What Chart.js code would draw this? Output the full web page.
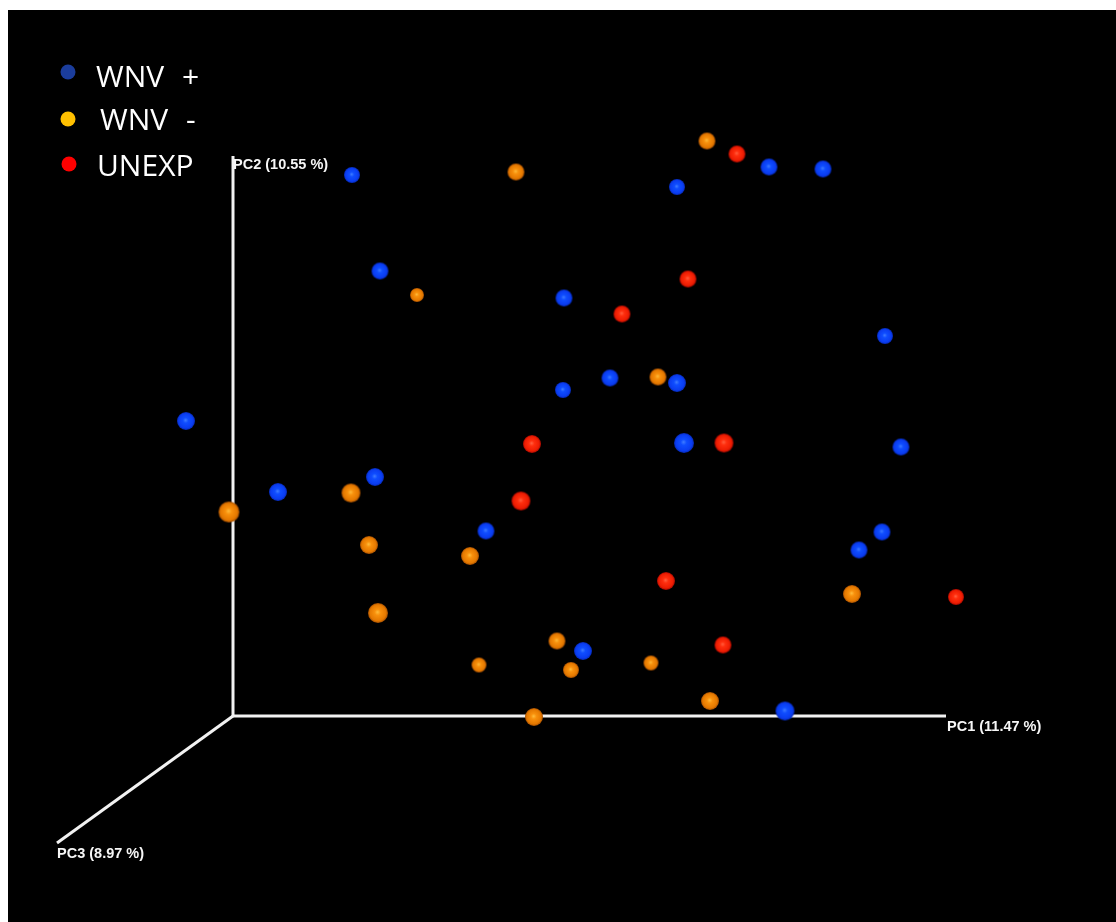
<!DOCTYPE html>
<html>
<head>
<meta charset="utf-8">
<script src="https://cdn.jsdelivr.net/npm/chart.js@4.4.1/dist/chart.umd.min.js"></script>
<style>
  html, body { margin: 0; padding: 0; background: #fff; }
  #wrap { position: absolute; left: 8px; top: 10px; width: 1108px; height: 912px; background: #000; }
</style>
</head>
<body>
<div id="wrap"><canvas id="pcoa"></canvas></div>
<script>
// ===== Data (screen-projected PCoA coords, origin at the axes corner) =====
const groups = ['WNV +', 'WNV -', 'UNEXP'];

const wnvPosX = [119, 147, -47, 45, 142, 331, 330, 377, 444, 444, 451, 536, 590, 652, 668, 649, 626, 253, 350, 552];
const wnvPosY = [541, 445, 295, 224, 239, 418, 326, 338, 529, 333, 273, 549, 547, 380, 269, 184, 166, 185, 65, 5];
const wnvPosR = [7.5, 8, 8.5, 8.5, 8.5, 8, 7.5, 8, 7.5, 8.5, 9.5, 8, 8, 7.5, 8, 8, 8, 8, 8.5, 9];

const wnvNegX = [474, 283, 184, 425, -4, 118, 136, 237, 145, 324, 246, 338, 418, 477, 301, 619];
const wnvNegY = [575, 544, 421, 339, 204, 223, 171, 160, 103, 75, 51, 46, 53, 15, -1, 122];
const wnvNegR = [8, 8, 6.5, 8, 10, 9, 8.5, 8.5, 9.5, 8, 7, 7.5, 7, 8.5, 8.5, 8.5];

const unexpX = [504, 455, 389, 299, 491, 288, 433, 490, 723];
const unexpY = [562, 437, 402, 272, 273, 215, 135, 71, 119];
const unexpR = [8, 8, 8, 8.5, 9, 9, 8.5, 8, 7.5];

// 3D axis ends as they project on screen
const axisNames = ['PC1 (11.47 %)', 'PC2 (10.55 %)', 'PC3 (8.97 %)'];
const axisEndX  = [713, 0, -176];
const axisEndY  = [0, 560, -127];

// ===== Colours =====
const legendColors = ['#1b3d9c', '#ffc000', '#ff0000'];
const shades = [
  ['#3f7cff', '#0f4dff', '#0a3cf0', '#0528b0'],   // blue
  ['#ffbc3a', '#f8900c', '#e47800', '#a04c00'],   // orange
  ['#ff6040', '#ff2e0e', '#ec1c02', '#a00800'],   // red
];

// ===== Sphere sprites =====
const sphereCache = {};
function sphere(sh, r) {
  const key = sh[1] + r;
  if (sphereCache[key]) return sphereCache[key];
  const size = Math.ceil(r * 2 + 3);
  const c = document.createElement('canvas');
  c.width = c.height = size;
  const g = c.getContext('2d');
  const m = size / 2;
  const R = r + 0.5;
  const grad = g.createRadialGradient(m - r * 0.05, m - r * 0.1, 0, m, m, R);
  grad.addColorStop(0, sh[0]);
  grad.addColorStop(0.3, sh[1]);
  grad.addColorStop(0.8, sh[2]);
  grad.addColorStop(1, sh[3]);
  g.fillStyle = grad;
  g.beginPath();
  g.arc(m, m, R, 0, Math.PI * 2);
  g.fill();
  sphereCache[key] = c;
  return c;
}

const pts = (xs, ys) => xs.map((x, i) => ({ x, y: ys[i] }));

function groupDataset(i, xs, ys, rs) {
  return {
    label: groups[i],
    data: pts(xs, ys),
    order: 0,
    pointRadius: ctx => rs[ctx.dataIndex] || 8,
    pointStyle: ctx => sphere(shades[i], rs[ctx.dataIndex] || 8),
  };
}

function axisDataset(i) {
  return {
    label: axisNames[i],
    data: [{ x: 0, y: 0 }, { x: axisEndX[i], y: axisEndY[i] }],
    showLine: true,
    borderColor: '#f2f2f2',
    borderWidth: 3,
    pointRadius: 0,
    order: 10,
  };
}

// ===== Plugins: axis titles + legend =====
const axisLabelOffsets = [[1, 11], [0, 9], [0, 11]];
const axisTitles = {
  id: 'axisTitles',
  afterDatasetsDraw(chart) {
    const { ctx, scales: { x, y } } = chart;
    ctx.save();
    ctx.font = 'bold 14.5px "Liberation Sans", Arial, sans-serif';
    ctx.fillStyle = '#f6f6f6';
    ctx.textBaseline = 'middle';
    ctx.textAlign = 'left';
    axisNames.forEach((name, i) => {
      const px = x.getPixelForValue(axisEndX[i]) + axisLabelOffsets[i][0];
      const py = y.getPixelForValue(axisEndY[i]) + axisLabelOffsets[i][1];
      ctx.fillText(name, px, py);
    });
    ctx.restore();
  }
};

const legendSpots = [[60, 62, 88, 77], [60, 109, 92, 120], [61, 154, 89, 166]];
const groupLegend = {
  id: 'groupLegend',
  afterDraw(chart) {
    const { ctx } = chart;
    ctx.save();
    ctx.font = '30px "Open Sans", sans-serif';
    ctx.textBaseline = 'alphabetic';
    groups.forEach((g, i) => {
      const [cx, cy, tx, ty] = legendSpots[i];
      ctx.fillStyle = legendColors[i];
      ctx.beginPath();
      ctx.arc(cx, cy, 7.5, 0, Math.PI * 2);
      ctx.fill();
      ctx.fillStyle = '#fff';
      ctx.wordSpacing = '10px';
      ctx.fillText(g, tx, ty);
    });
    ctx.restore();
  }
};

// ===== Chart =====
new Chart(document.getElementById('pcoa'), {
  type: 'scatter',
  data: {
    datasets: [
      axisDataset(0), axisDataset(1), axisDataset(2),
      groupDataset(0, wnvPosX, wnvPosY, wnvPosR),
      groupDataset(1, wnvNegX, wnvNegY, wnvNegR),
      groupDataset(2, unexpX, unexpY, unexpR),
    ],
  },
  options: {
    responsive: true,
    maintainAspectRatio: false,
    animation: false,
    events: [],
    layout: { padding: 0, autoPadding: false },
    plugins: {
      legend: { display: false },
      tooltip: { enabled: false },
    },
    scales: {
      x: { type: 'linear', min: -225, max: 883, display: false },
      y: { type: 'linear', min: -206, max: 706, display: false },
    },
  },
  plugins: [axisTitles, groupLegend],
});
</script>
</body>
</html>
